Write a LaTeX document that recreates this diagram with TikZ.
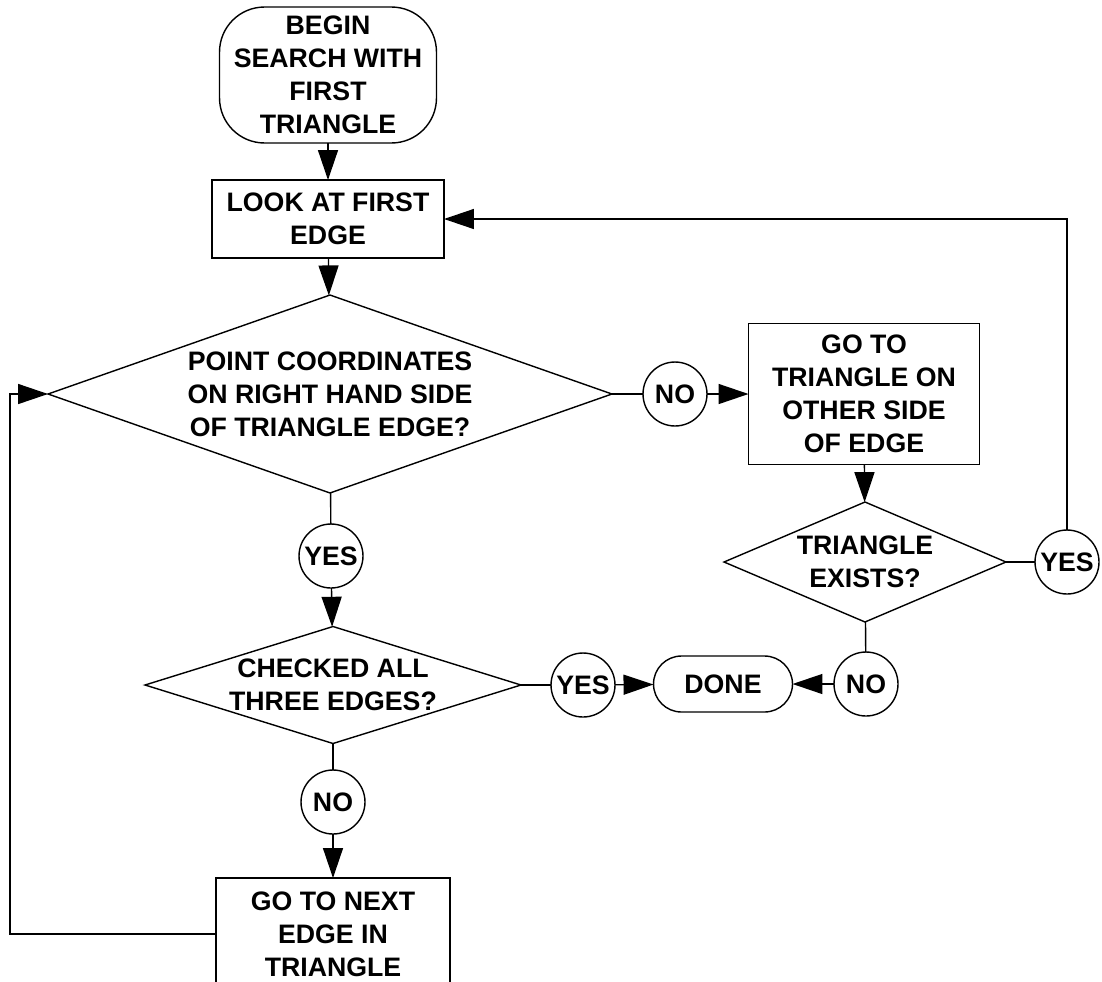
\documentclass[tikz,border=0pt]{standalone}
\usepackage{fontspec}
\setmainfont{Liberation Sans}
\usepackage{tikz}
\usetikzlibrary{arrows.meta,shapes.geometric}
\tikzset{
    flownode/.style = {
        align=center,
        font=\bfseries\fontsize{15.2}{18.8}\selectfont,
        draw=black,
        line width=0.8pt,
        inner sep=0pt,
        outer sep=0mm
    },
    termnode/.style = {
        flownode,
        rectangle,
        rounded corners=9mm
    },
    boxnode/.style = {
        flownode,
        rectangle
    },
    decisionnode/.style = {
        flownode,
        diamond
    },
    answernode/.style = {
        flownode,
        circle,
        minimum size=1.28cm
    },
    flowline/.style = {
        line width=0.8pt
    },
    flowarrow/.style = {
        flowline,
        -{Triangle[length=6mm,width=4mm]}
    }
}

\begin{document}
\begin{tikzpicture}[x=0.02cm, y=-0.02cm]
    \useasboundingbox (0,0) rectangle (1102,981);

    \node [termnode, minimum width=4.34cm, minimum height=2.72cm] (begin) at (328,75)
        {BEGIN\\SEARCH WITH\\FIRST\\TRIANGLE};
    \node [boxnode, minimum width=4.64cm, minimum height=1.56cm] (look) at (328,219)
        {LOOK AT FIRST\\EDGE};
    \node [decisionnode, aspect=2.85, minimum width=11.28cm, minimum height=3.96cm] (pointtest) at (330,394)
        {POINT COORDINATES\\ON RIGHT HAND SIDE\\OF TRIANGLE EDGE?};
    \node [answernode] (noA) at (675,394) {NO};
    \node [boxnode, minimum width=4.62cm, minimum height=2.82cm] (othertri) at (864,394)
        {GO TO\\TRIANGLE ON\\OTHER SIDE\\OF EDGE};
    \node [decisionnode, aspect=2.35, minimum width=5.64cm, minimum height=2.4cm] (existtest) at (865,562)
        {TRIANGLE\\EXISTS?};
    \node [answernode] (yesB) at (1067,562) {YES};
    \node [answernode] (noB) at (866,684) {NO};
    \node [termnode, rounded corners=5.6mm, minimum width=2.78cm, minimum height=1.12cm] (done) at (723,684)
        {DONE};
    \node [answernode] (yesA) at (331,556) {YES};
    \node [decisionnode, aspect=3.2, inner sep=-2mm, minimum width=7.52cm, minimum height=2.34cm] (edgetest) at (333,685)
        {CHECKED ALL\\THREE EDGES?};
    \node [answernode] (yesC) at (583,685) {YES};
    \node [answernode] (noC) at (333,802) {NO};
    \node [boxnode, minimum width=4.68cm, minimum height=2.24cm] (nextedge) at (333,934)
        {GO TO NEXT\\EDGE IN\\TRIANGLE};
    \coordinate (loopcorner) at (10,394);

    \draw [flowarrow] (begin) -- (look);
    \draw [flowarrow] (look) -- (pointtest);
    \draw [flowline] (pointtest) -- (noA);
    \draw [flowarrow] (noA) -- (othertri);
    \draw [flowarrow] (othertri) -- (existtest);
    \draw [flowline] (existtest) -- (yesB);
    \draw [flowarrow] (yesB) |- (look);
    \draw [flowline] (existtest) -- (noB);
    \draw [flowarrow] (noB) -- (done);
    \draw [flowline] (pointtest) -- (yesA);
    \draw [flowarrow] (yesA) -- (edgetest);
    \draw [flowline] (edgetest) -- (yesC);
    \draw [flowarrow] (yesC) -- (done);
    \draw [flowline] (edgetest) -- (noC);
    \draw [flowarrow] (noC) -- (nextedge);
    \draw [flowarrow] (nextedge) -| (loopcorner) -- (pointtest);
\end{tikzpicture}
\end{document}
